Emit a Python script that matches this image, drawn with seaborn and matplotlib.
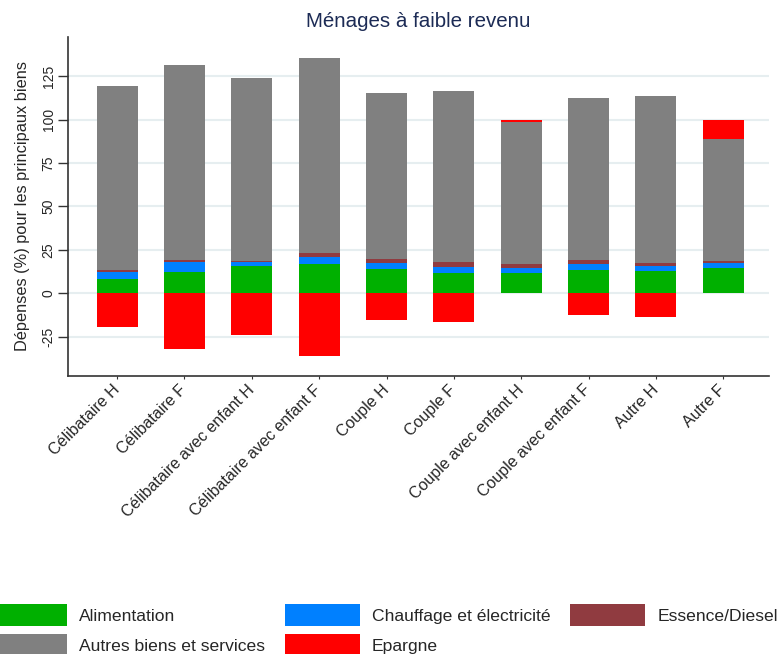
import numpy as np
import pandas as pd
import matplotlib
matplotlib.use("Agg")
import matplotlib.pyplot as plt
import seaborn as sns
from matplotlib.patches import Patch

categories = ["Célibataire H", "Célibataire F", "Célibataire avec enfant H",
              "Célibataire avec enfant F", "Couple H", "Couple F",
              "Couple avec enfant H", "Couple avec enfant F", "Autre H", "Autre F"]
alimentation = [8.2, 12.4, 15.9, 17.1, 14.0, 11.7, 11.7, 13.6, 12.8, 14.8]
chauffage = [3.9, 5.6, 2.1, 3.8, 3.5, 3.3, 2.9, 3.3, 2.9, 2.7]
essence = [1.3, 1.2, 0.6, 2.5, 2.3, 3.0, 2.3, 2.3, 1.8, 1.1]
autres = [106.0, 112.3, 105.4, 112.1, 95.6, 98.5, 81.8, 93.3, 96.2, 70.3]
epargne = [-19.4, -32.1, -24.0, -35.9, -15.4, -16.5, 1.3, -12.5, -13.7, 11.1]

colors = {"Alimentation": "#00B000", "Chauffage et électricité": "#0080FF",
          "Essence/Diesel": "#903B40", "Autres biens et services": "#808080",
          "Epargne": "#FF0000"}

sns.set_style("white")
plt.rcParams["font.family"] = ["Liberation Sans", "DejaVu Sans"]

alim = np.array(alimentation)
c1 = alim + np.array(chauffage)
c2 = c1 + np.array(essence)
c3 = c2 + np.array(autres)
ep = np.array(epargne)
c4 = c3 + np.clip(ep, 0, None)
neg = np.clip(ep, None, 0)

fig = plt.figure(figsize=(7.81, 6.54), dpi=100)
ax = fig.add_axes([68/781, 1-375.7/654, (769-68)/781, (375.7-37)/654])

layers = [(c4, "Epargne"), (c3, "Autres biens et services"), (c2, "Essence/Diesel"),
          (c1, "Chauffage et électricité"), (alim, "Alimentation"), (neg, "Epargne")]
for vals, name in layers:
    df = pd.DataFrame({"cat": categories, "val": vals})
    sns.barplot(data=df, x="cat", y="val", order=categories, color=colors[name],
                saturation=1, width=0.61, errorbar=None, linewidth=0, ax=ax, zorder=3)

ax.set_xlim(-0.73, 9.68)
ax.set_ylim(-47.5, 147.6)
ax.set_yticks([-25, 0, 25, 50, 75, 100, 125])
ax.set_yticklabels(["-25", "0", "25", "50", "75", "100", "125"], rotation=90,
                   va="center", fontsize=10)
ax.yaxis.grid(True, color="#E6EEF0", linewidth=1.5, zorder=0)
ax.set_axisbelow(True)
ax.set_xticks(range(len(categories)))
ax.set_xticklabels(categories, rotation=45, ha="right", va="center",
                   rotation_mode="anchor", fontsize=11.5)
ax.tick_params(axis="y", length=7, width=1, color="#333333", pad=2, left=True)
ax.tick_params(axis="x", length=2, width=0.8, color="#333333", pad=6.5, bottom=True)
for s in ["top", "right"]:
    ax.spines[s].set_visible(False)
for s in ["left", "bottom"]:
    ax.spines[s].set_color("#333333")
    ax.spines[s].set_linewidth(1.2)
ax.set_xlabel("")
ax.set_ylabel("Dépenses (%) pour les principaux biens", fontsize=11.75, labelpad=8.5)
ax.set_title("Ménages à faible revenu", fontsize=14.8, color="#1C2B55", pad=7)

order = ["Alimentation", "Autres biens et services", "Chauffage et électricité",
         "Epargne", "Essence/Diesel"]
handles = [Patch(facecolor=colors[n], edgecolor="none", label=n) for n in order]
fig.legend(handles=handles, ncol=3, loc="upper left", bbox_to_anchor=(-8/781, 1-604/654),
           frameon=False, fontsize=12.6, handlelength=4.29, handleheight=1.557,
           handletextpad=0.69, columnspacing=1.12, labelspacing=0.46,
           borderpad=0, borderaxespad=0)

fig.savefig("out.png", dpi=100)
